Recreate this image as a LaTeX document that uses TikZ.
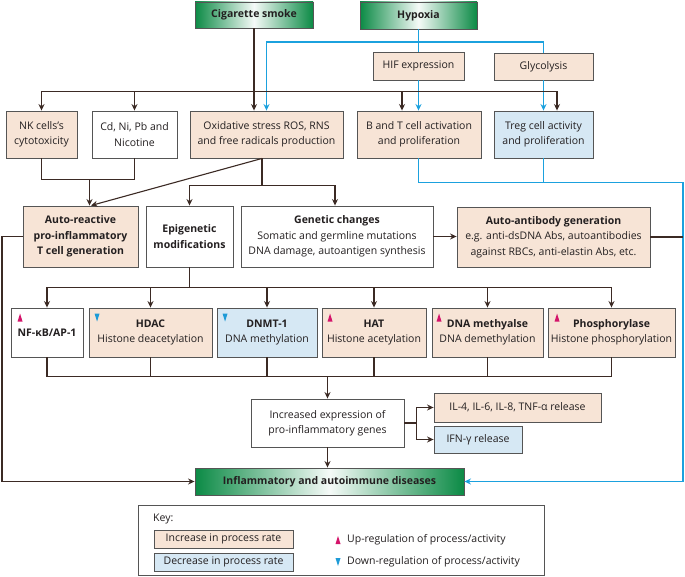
\documentclass[tikz,border=0pt]{standalone}
\usepackage{fontspec}
\setmainfont{Open Sans}
\usetikzlibrary{arrows.meta}
\definecolor{beige}{HTML}{F7E4D6}
\definecolor{bluef}{HTML}{D6E8F4}
\definecolor{bordc}{HTML}{555555}
\definecolor{brn}{HTML}{3B2A24}
\definecolor{lnblue}{HTML}{1BA1DE}
\definecolor{gdark}{HTML}{0B8A45}
\definecolor{txt}{HTML}{231F20}
\definecolor{upc}{HTML}{D4146A}
\definecolor{dnc}{HTML}{1E9BD7}
\begin{document}
\begin{tikzpicture}[x=1pt,y=-1pt,
  font=\fontsize{10.5}{15.5}\selectfont,
  box/.style={draw=bordc, line width=0.9pt, inner sep=0pt, align=center, text=txt},
  incb/.style={box, fill=beige},
  decb/.style={box, fill=bluef},
  wbox/.style={box, fill=white},
  grad/.style={box, left color=gdark, right color=gdark, middle color=gdark!4, font=\fontsize{10.5}{12}\selectfont\bfseries},
  conn/.style={draw=brn, line width=1.1pt},
  arr/.style={conn, -{Stealth[length=6.5pt,width=6pt]}},
  bconn/.style={lnblue, line width=1.3pt},
  barr/.style={bconn, -{Stealth[length=6.5pt,width=6pt]}},
  uptri/.style={fill=upc},
  dntri/.style={fill=dnc}
]
\useasboundingbox[fill=white] (0,0) rectangle (685,577);

% top sources
\node[grad, minimum width=118, minimum height=26] (cig) at (254,15) {Cigarette smoke};
\node[grad, minimum width=117, minimum height=27] (hyp) at (418.5,15.5) {Hypoxia};
\node[incb, minimum width=91, minimum height=28] (hif) at (418.5,66) {HIF expression};
\node[incb, minimum width=99, minimum height=27] (gly) at (543.5,66.5) {Glycolysis};

% row 2
\node[incb, minimum width=71, minimum height=47] (nk) at (41.5,134.5) {NK cells's\\cytotoxicity};
\node[wbox, minimum width=85, minimum height=47] (cd) at (134.5,134.5) {Cd, Ni, Pb and\\Nicotine};
\node[incb, minimum width=153, minimum height=47] (ox) at (266.5,134.5) {Oxidative stress ROS, RNS\\and free radicals production};
\node[incb, minimum width=124, minimum height=47] (bt) at (419,134.5) {B and T cell activation\\and proliferation};
\node[decb, minimum width=99, minimum height=47] (treg) at (543.5,134.5) {Treg cell activity\\and proliferation};

% row 3
\node[incb, minimum width=115, minimum height=61, font=\fontsize{10.5}{15.5}\selectfont\bfseries] (auto) at (80.5,236.5) {Auto-reactive\\pro-inflammatory\\T cell generation};
\node[wbox, minimum width=87, minimum height=61, font=\fontsize{10.5}{15.5}\selectfont\bfseries] (epi) at (189.5,236.5) {Epigenetic\\modifications};
\node[wbox, minimum width=192, minimum height=61] (gen) at (337,236.5) {\textbf{Genetic changes}\\Somatic and germline mutations\\DNA damage, autoantigen synthesis};
\node[incb, minimum width=193, minimum height=60] (ab) at (553.5,237) {\textbf{Auto-antibody generation}\\e.g. anti-dsDNA Abs, autoantibodies\\against RBCs, anti-elastin Abs, etc.};

% row 4
\node[wbox, minimum width=72, minimum height=49, font=\fontsize{10.5}{15.5}\selectfont\bfseries] (nf) at (47,332.5) {NF-κB/AP-1};
\node[incb, minimum width=123, minimum height=49] (hdac) at (150.5,332.5) {\textbf{HDAC}\\Histone deacetylation};
\node[decb, minimum width=100, minimum height=49] (dnmt) at (267,332.5) {\textbf{DNMT-1}\\DNA methylation};
\node[incb, minimum width=104, minimum height=49] (hat) at (374,332.5) {\textbf{HAT}\\Histone acetylation};
\node[incb, minimum width=111, minimum height=49] (dnam) at (487.5,332.5) {\textbf{DNA methyalse}\\DNA demethylation};
\node[incb, minimum width=127, minimum height=49] (phos) at (611.5,332.5) {\textbf{Phosphorylase}\\Histone phosphorylation};

% triangles
\fill[uptri] ([shift={(7,14)}]nf.north west) -- ++(5,0) -- ++(-2.5,-8) -- cycle;
\fill[dntri] ([shift={(6,6)}]hdac.north west) -- ++(5,0) -- ++(-2.5,8) -- cycle;
\fill[dntri] ([shift={(6,6)}]dnmt.north west) -- ++(5,0) -- ++(-2.5,8) -- cycle;
\fill[uptri] ([shift={(6,14)}]hat.north west) -- ++(5,0) -- ++(-2.5,-8) -- cycle;
\fill[uptri] ([shift={(5,14)}]dnam.north west) -- ++(5,0) -- ++(-2.5,-8) -- cycle;
\fill[uptri] ([shift={(7,14)}]phos.north west) -- ++(5,0) -- ++(-2.5,-8) -- cycle;

% lower part
\node[wbox, minimum width=153, minimum height=48] (inc) at (327.5,423) {Increased expression of\\pro-inflammatory genes};
\node[incb, minimum width=167, minimum height=29] (il) at (517.5,407.5) {IL-4, IL-6, IL-8, TNF-α release};
\node[decb, minimum width=88, minimum height=27] (ifn) at (478,439.5) {IFN-γ release};
\node[grad, minimum width=269, minimum height=27] (infl) at (329.5,481.5) {Inflammatory and autoimmune diseases};

% key
\node[draw=bordc, line width=0.9pt, fill=white, minimum width=406, minimum height=70, anchor=north west, inner sep=0pt] (key) at (138,505) {};
\node[anchor=west, inner sep=0pt, text=txt] (keyt) at (153,519) {Key:};
\node[incb, minimum width=139, minimum height=18] (ki) at (223.5,539) {Increase in process rate};
\node[decb, minimum width=139, minimum height=18] (kd) at (223.5,562) {Decrease in process rate};
\node[anchor=west, inner sep=0pt, text=txt] (ku) at (347,540) {Up-regulation of process/activity};
\node[anchor=west, inner sep=0pt, text=txt] (kdn) at (347,562) {Down-regulation of process/activity};
\fill[uptri] ([shift={(-11.5,4)}]ku.west) -- ++(5,0) -- ++(-2.5,-8) -- cycle;
\fill[dntri] ([shift={(-11.5,-4)}]kdn.west) -- ++(5,0) -- ++(-2.5,8) -- cycle;

% blue connectors
\path (hyp.south) ++(0,12.5) coordinate (hj);
\coordinate (rt) at (683,182.5);
\draw[bconn] (hyp.south) -- (hif.north);
\draw[barr] (hj) -| (ox.north);
\draw[barr, -] (hj) -| (gly.north);
\draw[barr] (hif.south) -- (hif.south |- bt.north);
\draw[barr] (gly.south) -- (treg.north);
\draw[barr] (hif.south |- bt.south) |- (rt) |- (infl.east);
\draw[barr, -] (treg.south) -- (treg.south |- rt);

% black connectors
\draw[arr] (cig.south) -- (cig.south |- ox.north);
\path (cig.south) ++(0,63) coordinate (cj);
\draw[arr] (cj) -| (nk.north);
\draw[arr] (cj) -| (cd.north);
\draw[arr] (cj) -| ([xshift=-17]bt.north);
\draw[arr] (cj) -| ([xshift=13.5]treg.north);

\path (nk.south) ++(0,21) coordinate (nkb);
\draw[conn] (nk.south) -- (nkb) -| (cd.south);
\coordinate (atop) at ([xshift=9]auto.north);
\draw[arr] (nkb -| atop) -- (atop);
\path ([xshift=-4.5]ox.south) coordinate (oxs);
\draw[arr] (oxs) -- ([xshift=1.5]atop);
\draw[conn] (oxs) -- ++(0,27) coordinate (oxj);
\draw[arr] (oxj) -| (epi.north);
\draw[arr] (oxj) -| ([xshift=-2]gen.north);

\draw[arr] (gen.east) -- (gen.east -| ab.west);
\draw[conn] (ab.east) -- (ab.east -| rt);

\coordinate (lft) at (2,236.5);
\draw[arr] (auto.west) -- (lft) |- (infl.west);

\draw[conn] (epi.south) -- ++(0,20) coordinate (ej);
\foreach \n in {nf,hdac,dnmt,hat,dnam,phos} \draw[arr] (ej) -| (\n.north);

\path (inc.north) ++(0,-22) coordinate (rj);
\foreach \n in {nf,hdac,dnmt,hat,dnam,phos} \draw[conn] (\n.south) |- (rj);
\draw[arr] (rj) -- (inc.north);
\draw[arr] (inc.south) -- (inc.south |- infl.north);
\draw[conn] (inc.east) -- ++(12,0) coordinate (ij);
\draw[arr] (ij) |- (il.west);
\draw[arr] (ij) |- (ifn.west);
\end{tikzpicture}
\end{document}
